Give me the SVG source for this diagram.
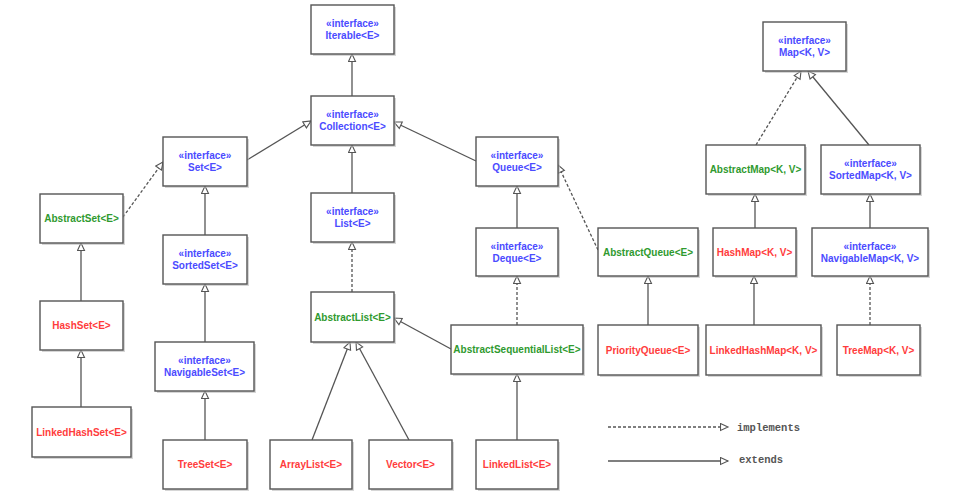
<svg xmlns="http://www.w3.org/2000/svg" width="958" height="499" viewBox="0 0 958 499">
<defs>
<style>
.box rect.b{fill:#fff;stroke:#555;stroke-width:1.4}
.box rect.s{fill:#bbb;opacity:0.6}
.box text{font-family:"Liberation Sans",Arial,sans-serif;font-size:10px;font-weight:bold;text-anchor:middle}
.i{fill:#4b4bff}
.a{fill:#2f9a2f}
.c{fill:#ff3c3c}
.e{fill:none;stroke:#555;stroke-width:1.3;marker-end:url(#tri)}
.d{stroke-dasharray:3,2}
.leg{font-family:"Liberation Mono","Courier New",monospace;font-size:10.5px;font-weight:bold;fill:#555}
</style>
<marker id="tri" markerUnits="userSpaceOnUse" markerWidth="10" markerHeight="10" refX="8.5" refY="4.5" orient="auto" viewBox="0 0 10 10">
<path d="M1,1 L8.5,4.5 L1,8 z" fill="#fff" stroke="#555" stroke-width="1.1"/>
</marker>
</defs>
<rect width="958" height="499" fill="#fff"/>
<g id="connectors">
<line class="e" x1="352" y1="96" x2="352" y2="54"/>
<line class="e" x1="352" y1="193" x2="352" y2="145"/>
<line class="e d" x1="352" y1="292" x2="352" y2="242"/>
<line class="e" x1="247" y1="160" x2="311" y2="121"/>
<line class="e" x1="476" y1="161" x2="394" y2="122"/>
<line class="e d" x1="123" y1="217" x2="163" y2="162"/>
<line class="e d" x1="598" y1="250" x2="558" y2="165"/>
<line class="e d" x1="756" y1="145" x2="801" y2="71"/>
<line class="e" x1="869" y1="145" x2="808" y2="71"/>
<line class="e" x1="312" y1="440" x2="350" y2="342"/>
<line class="e" x1="409" y1="440" x2="356" y2="342"/>
<line class="e" x1="451" y1="349" x2="394" y2="318"/>
<line class="e" x1="205" y1="235" x2="205" y2="186"/>
<line class="e" x1="205" y1="342" x2="205" y2="284"/>
<line class="e" x1="205" y1="440" x2="205" y2="391"/>
<line class="e" x1="81" y1="301" x2="81" y2="243"/>
<line class="e" x1="81" y1="407" x2="81" y2="350"/>
<line class="e" x1="517" y1="228" x2="517" y2="186"/>
<line class="e d" x1="517" y1="325" x2="517" y2="276"/>
<line class="e" x1="517" y1="440" x2="517" y2="374"/>
<line class="e" x1="648" y1="325" x2="648" y2="276"/>
<line class="e" x1="755" y1="228" x2="755" y2="194"/>
<line class="e" x1="870" y1="228" x2="870" y2="194"/>
<line class="e" x1="754" y1="325" x2="754" y2="276"/>
<line class="e d" x1="870" y1="325" x2="870" y2="276"/>
</g>
<g id="legend">
<line class="e d" x1="608" y1="427" x2="728" y2="427"/>
<text class="leg" x="737" y="431">implements</text>
<line class="e" x1="608" y1="461" x2="728" y2="461"/>
<text class="leg" x="739" y="463">extends</text>
</g>
<g id="Iterable" class="box"><rect class="s" x="313" y="7" width="83" height="49"/><rect class="b" x="311" y="5" width="83" height="49"/><text class="i" x="352.5" y="27">«interface»</text><text class="i" x="352.5" y="39">Iterable&lt;E&gt;</text></g>
<g id="Collection" class="box"><rect class="s" x="313" y="98" width="83" height="49"/><rect class="b" x="311" y="96" width="83" height="49"/><text class="i" x="352.5" y="118">«interface»</text><text class="i" x="352.5" y="130">Collection&lt;E&gt;</text></g>
<g id="Set" class="box"><rect class="s" x="165" y="139" width="84" height="49"/><rect class="b" x="163" y="137" width="84" height="49"/><text class="i" x="205" y="159">«interface»</text><text class="i" x="205" y="171">Set&lt;E&gt;</text></g>
<g id="Queue" class="box"><rect class="s" x="478" y="139" width="82" height="49"/><rect class="b" x="476" y="137" width="82" height="49"/><text class="i" x="517" y="159">«interface»</text><text class="i" x="517" y="171">Queue&lt;E&gt;</text></g>
<g id="AbstractSet" class="box"><rect class="s" x="42" y="196" width="83" height="49"/><rect class="b" x="40" y="194" width="83" height="49"/><text class="a" x="81.5" y="222">AbstractSet&lt;E&gt;</text></g>
<g id="List" class="box"><rect class="s" x="313" y="195" width="83" height="49"/><rect class="b" x="311" y="193" width="83" height="49"/><text class="i" x="352.5" y="215">«interface»</text><text class="i" x="352.5" y="227">List&lt;E&gt;</text></g>
<g id="SortedSet" class="box"><rect class="s" x="165" y="237" width="84" height="49"/><rect class="b" x="163" y="235" width="84" height="49"/><text class="i" x="205" y="257">«interface»</text><text class="i" x="205" y="269">SortedSet&lt;E&gt;</text></g>
<g id="Deque" class="box"><rect class="s" x="478" y="230" width="82" height="48"/><rect class="b" x="476" y="228" width="82" height="48"/><text class="i" x="517" y="250">«interface»</text><text class="i" x="517" y="262">Deque&lt;E&gt;</text></g>
<g id="AbstractQueue" class="box"><rect class="s" x="600" y="230" width="100" height="48"/><rect class="b" x="598" y="228" width="100" height="48"/><text class="a" x="648" y="255.5">AbstractQueue&lt;E&gt;</text></g>
<g id="HashMap" class="box"><rect class="s" x="715" y="230" width="83" height="48"/><rect class="b" x="713" y="228" width="83" height="48"/><text class="c" x="754.5" y="255.5">HashMap&lt;K, V&gt;</text></g>
<g id="NavigableMap" class="box"><rect class="s" x="814" y="230" width="116" height="48"/><rect class="b" x="812" y="228" width="116" height="48"/><text class="i" x="870" y="250">«interface»</text><text class="i" x="870" y="262">NavigableMap&lt;K, V&gt;</text></g>
<g id="Map" class="box"><rect class="s" x="765" y="24" width="83" height="49"/><rect class="b" x="763" y="22" width="83" height="49"/><text class="i" x="804.5" y="44">«interface»</text><text class="i" x="804.5" y="56">Map&lt;K, V&gt;</text></g>
<g id="AbstractMap" class="box"><rect class="s" x="708" y="147" width="99" height="49"/><rect class="b" x="706" y="145" width="99" height="49"/><text class="a" x="755.5" y="173">AbstractMap&lt;K, V&gt;</text></g>
<g id="SortedMap" class="box"><rect class="s" x="823" y="147" width="99" height="49"/><rect class="b" x="821" y="145" width="99" height="49"/><text class="i" x="870.5" y="167">«interface»</text><text class="i" x="870.5" y="179">SortedMap&lt;K, V&gt;</text></g>
<g id="AbstractList" class="box"><rect class="s" x="313" y="294" width="83" height="50"/><rect class="b" x="311" y="292" width="83" height="50"/><text class="a" x="352.5" y="320.5">AbstractList&lt;E&gt;</text></g>
<g id="HashSet" class="box"><rect class="s" x="42" y="303" width="83" height="49"/><rect class="b" x="40" y="301" width="83" height="49"/><text class="c" x="81.5" y="329">HashSet&lt;E&gt;</text></g>
<g id="AbstractSequentialList" class="box"><rect class="s" x="453" y="327" width="132" height="49"/><rect class="b" x="451" y="325" width="132" height="49"/><text class="a" x="517" y="353">AbstractSequentialList&lt;E&gt;</text></g>
<g id="PriorityQueue" class="box"><rect class="s" x="600" y="327" width="100" height="50"/><rect class="b" x="598" y="325" width="100" height="50"/><text class="c" x="648" y="353.5">PriorityQueue&lt;E&gt;</text></g>
<g id="LinkedHashMap" class="box"><rect class="s" x="708" y="327" width="115" height="50"/><rect class="b" x="706" y="325" width="115" height="50"/><text class="c" x="763.5" y="353.5">LinkedHashMap&lt;K, V&gt;</text></g>
<g id="TreeMap" class="box"><rect class="s" x="839" y="327" width="83" height="50"/><rect class="b" x="837" y="325" width="83" height="50"/><text class="c" x="878.5" y="353.5">TreeMap&lt;K, V&gt;</text></g>
<g id="NavigableSet" class="box"><rect class="s" x="157" y="344" width="99" height="49"/><rect class="b" x="155" y="342" width="99" height="49"/><text class="i" x="204.5" y="364">«interface»</text><text class="i" x="204.5" y="376">NavigableSet&lt;E&gt;</text></g>
<g id="LinkedHashSet" class="box"><rect class="s" x="34" y="409" width="99" height="50"/><rect class="b" x="32" y="407" width="99" height="50"/><text class="c" x="81.5" y="435.5">LinkedHashSet&lt;E&gt;</text></g>
<g id="TreeSet" class="box"><rect class="s" x="165" y="442" width="84" height="49"/><rect class="b" x="163" y="440" width="84" height="49"/><text class="c" x="205" y="468">TreeSet&lt;E&gt;</text></g>
<g id="ArrayList" class="box"><rect class="s" x="272" y="442" width="82" height="49"/><rect class="b" x="270" y="440" width="82" height="49"/><text class="c" x="311" y="468">ArrayList&lt;E&gt;</text></g>
<g id="Vector" class="box"><rect class="s" x="371" y="442" width="83" height="49"/><rect class="b" x="369" y="440" width="83" height="49"/><text class="c" x="410.5" y="468">Vector&lt;E&gt;</text></g>
<g id="LinkedList" class="box"><rect class="s" x="478" y="442" width="82" height="49"/><rect class="b" x="476" y="440" width="82" height="49"/><text class="c" x="517" y="468">LinkedList&lt;E&gt;</text></g>
</svg>
